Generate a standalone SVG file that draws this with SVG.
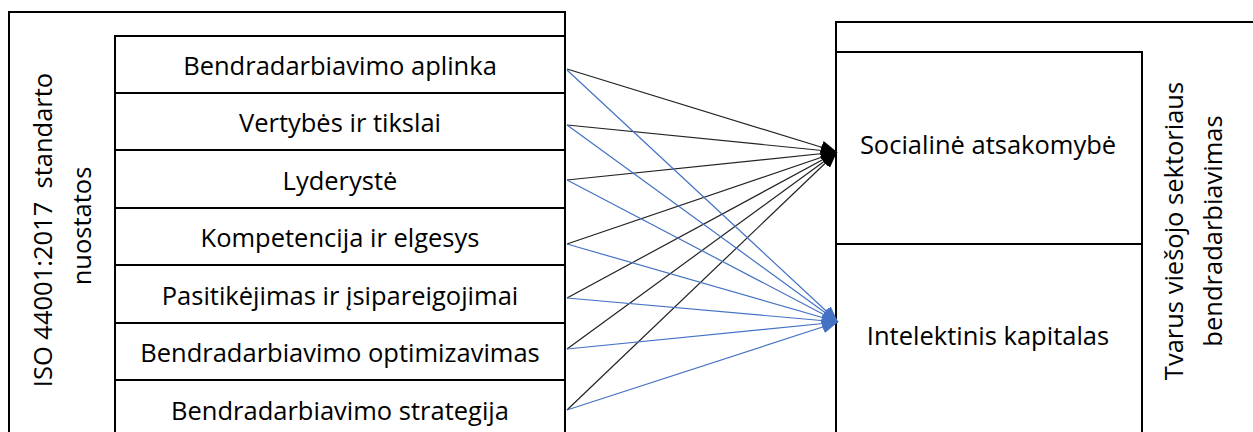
<svg xmlns="http://www.w3.org/2000/svg" width="1253" height="432" viewBox="0 0 1253 432">
<style>
.box{fill:#fff;stroke:#000;stroke-width:2}
.t{font-family:"Open Sans","Liberation Sans",sans-serif;font-size:25.5px;fill:#000;text-anchor:middle}
.lk{stroke:#222;stroke-width:1.2;fill:none;marker-end:url(#ak)}
.lb{stroke:#4472C4;stroke-width:1.2;fill:none;marker-end:url(#ab)}
</style>
<defs>
<marker id="ak" markerUnits="userSpaceOnUse" markerWidth="16" markerHeight="13" refX="16" refY="6.5" orient="auto"><path d="M0,0 L16,6.5 L0,13 z" fill="#000"/></marker>
<marker id="ab" markerUnits="userSpaceOnUse" markerWidth="16" markerHeight="13" refX="16" refY="6.5" orient="auto"><path d="M0,0 L16,6.5 L0,13 z" fill="#4472C4"/></marker>
</defs>
<rect width="1253" height="432" fill="#fff"/>
<g id="left-frame">
<rect class="box" x="9" y="12" width="556" height="440"/>
<text class="t" xml:space="preserve" transform="translate(52,230) rotate(-90)">ISO 44001:2017  standarto</text>
<text class="t" transform="translate(91,226) rotate(-90)">nuostatos</text>
</g>
<g id="n1"><rect class="box" x="115" y="36" width="450" height="57"/><text class="t" x="340" y="75">Bendradarbiavimo aplinka</text></g>
<g id="n2"><rect class="box" x="115" y="93" width="450" height="57"/><text class="t" x="340" y="132">Vertybės ir tikslai</text></g>
<g id="n3"><rect class="box" x="115" y="150" width="450" height="58"/><text class="t" x="340" y="189.5">Lyderystė</text></g>
<g id="n4"><rect class="box" x="115" y="208" width="450" height="57"/><text class="t" x="340" y="247">Kompetencija ir elgesys</text></g>
<g id="n5"><rect class="box" x="115" y="265" width="450" height="58"/><text class="t" x="340" y="304.5">Pasitikėjimas ir įsipareigojimai</text></g>
<g id="n6"><rect class="box" x="115" y="323" width="450" height="57"/><text class="t" x="340" y="362">Bendradarbiavimo optimizavimas</text></g>
<g id="n7"><rect class="box" x="115" y="380" width="450" height="70"/><text class="t" x="340" y="420">Bendradarbiavimo strategija</text></g>
<g id="right-frame">
<rect class="box" x="836" y="22" width="440" height="430"/>
<text class="t" transform="translate(1183,231) rotate(-90)">Tvarus viešojo sektoriaus</text>
<text class="t" transform="translate(1222,231) rotate(-90)">bendradarbiavimas</text>
</g>
<g id="r1"><rect class="box" x="836" y="52" width="306" height="192"/><text class="t" x="988" y="154">Socialinė atsakomybė</text></g>
<g id="r2"><rect class="box" x="836" y="244" width="306" height="208"/><text class="t" x="988" y="345">Intelektinis kapitalas</text></g>
<g id="connectors">
<line class="lk" x1="567" y1="69" x2="837" y2="152"/>
<line class="lk" x1="567" y1="125" x2="837" y2="152"/>
<line class="lk" x1="567" y1="180" x2="837" y2="152"/>
<line class="lk" x1="567" y1="244" x2="837" y2="152"/>
<line class="lk" x1="567" y1="298" x2="837" y2="152"/>
<line class="lk" x1="567" y1="349" x2="837" y2="152"/>
<line class="lk" x1="567" y1="410" x2="837" y2="152"/>
<line class="lb" x1="567" y1="70" x2="838" y2="322"/>
<line class="lb" x1="567" y1="125" x2="838" y2="322"/>
<line class="lb" x1="567" y1="180" x2="838" y2="322"/>
<line class="lb" x1="567" y1="244" x2="838" y2="322"/>
<line class="lb" x1="567" y1="298" x2="838" y2="322"/>
<line class="lb" x1="567" y1="349" x2="838" y2="322"/>
<line class="lb" x1="567" y1="410" x2="838" y2="322"/>
</g>
</svg>
